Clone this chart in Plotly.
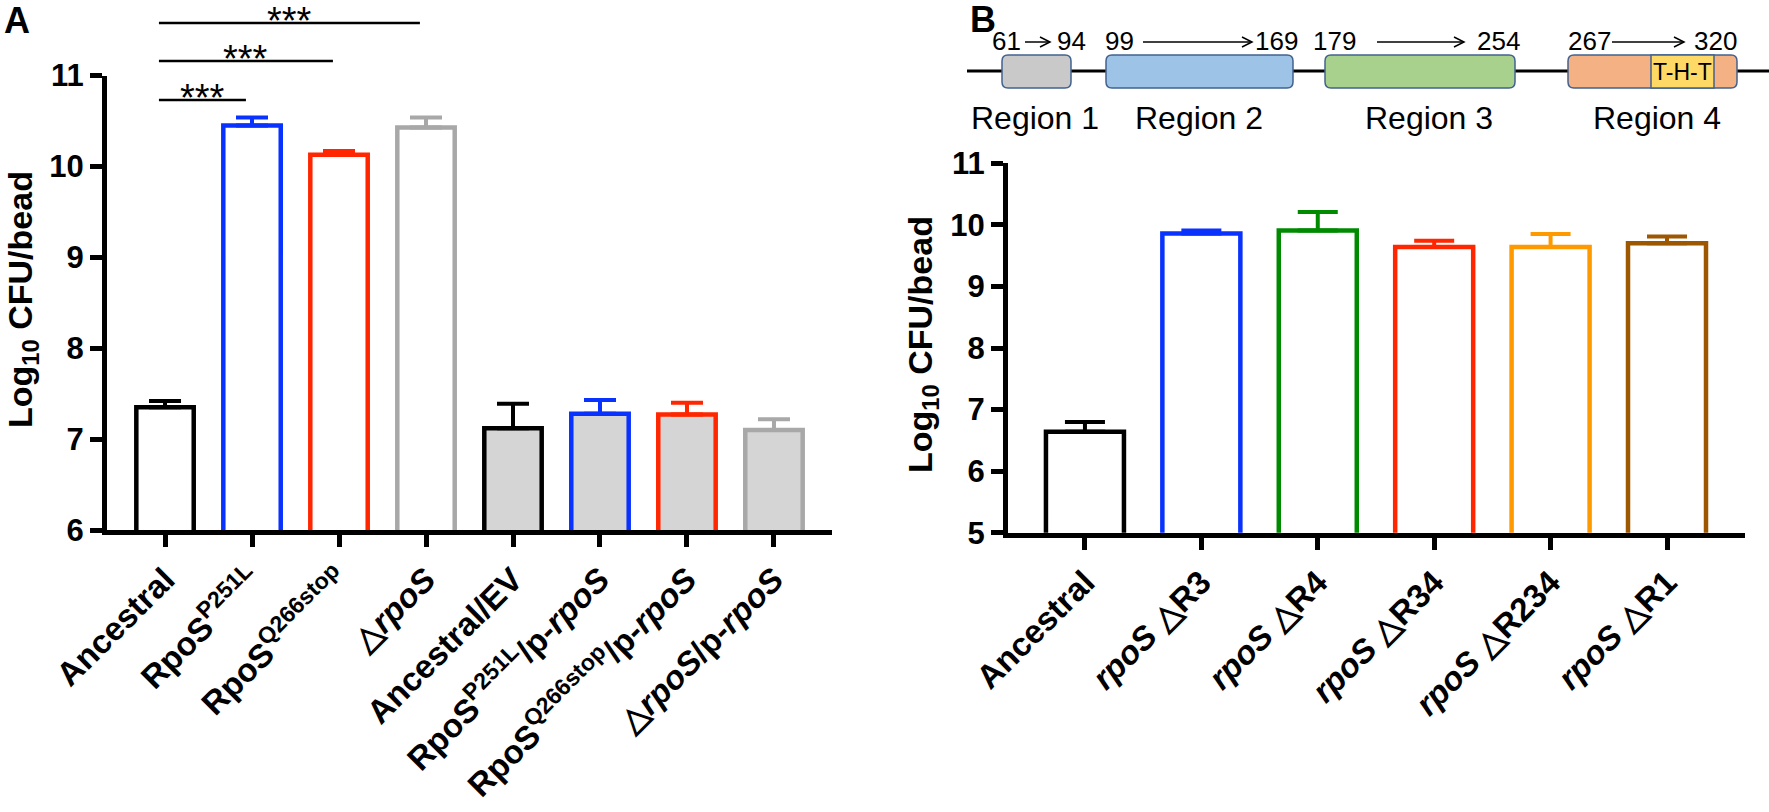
import plotly.graph_objects as go

W, H = 1769, 812
FONT = "Liberation Sans, Arial, sans-serif"

# ---------------- Panel A data ----------------
a_labels = ["Ancestral", "RpoS<sup>P251L</sup>", "RpoS<sup>Q266stop</sup>", "△<i>rpoS</i>",
            "Ancestral/EV", "RpoS<sup>P251L</sup>/p-<i>rpoS</i>",
            "RpoS<sup>Q266stop</sup>/p-<i>rpoS</i>", "△<i>rpoS</i>/p-<i>rpoS</i>"]
a_values = [7.35, 10.45, 10.13, 10.43, 7.12, 7.28, 7.27, 7.10]
a_errors = [0.07, 0.09, 0.04, 0.11, 0.27, 0.15, 0.13, 0.12]
a_line_colors = ["#000000", "#0a32ff", "#ff2600", "#a8a8a8",
                 "#000000", "#0a32ff", "#ff2600", "#a8a8a8"]
a_fill_colors = ["#ffffff", "#ffffff", "#ffffff", "#ffffff",
                 "#d5d5d5", "#d5d5d5", "#d5d5d5", "#d5d5d5"]
a_sig_pairs = [(0, 1), (0, 2), (0, 3)]
a_sig_text = ["***", "***", "***"]

# ---------------- Panel B data ----------------
b_labels = ["Ancestral", "<i>rpoS</i> △R3", "<i>rpoS</i> △R4", "<i>rpoS</i> △R34",
            "<i>rpoS</i> △R234", "<i>rpoS</i> △R1"]
b_values = [6.64, 9.86, 9.91, 9.64, 9.64, 9.70]
b_errors = [0.16, 0.05, 0.30, 0.10, 0.21, 0.11]
b_line_colors = ["#000000", "#0a32ff", "#008a00", "#ff2600", "#ff9900", "#9c5700"]

# ---------------- Domain diagram data ----------------
region_names = ["Region 1", "Region 2", "Region 3", "Region 4"]
region_start = [61, 99, 179, 267]
region_end = [94, 169, 254, 320]
region_fill = ["#c9c9c9", "#9dc3e6", "#a9d18e", "#f4b183"]
motif_text = "T-H-T"
motif_fill = "#ffd966"

# diagram layout (pixel positions)
box_px = [(1002, 1071), (1106, 1293), (1325, 1515), (1568, 1737)]
motif_px = (1651, 1714)
start_num_px = [1006, 1119, 1334, 1589]
arrow_px = [(1025, 1050), (1143, 1252), (1377, 1464), (1612, 1684)]
end_num_px = [1071, 1276, 1498, 1715]
label_px = [1035, 1199, 1429, 1657]


def px(x):
    return x / W


def py(y):
    return 1 - y / H


fig = go.Figure()

# Panel A bars
for i, (v, e, lc, fc) in enumerate(zip(a_values, a_errors, a_line_colors, a_fill_colors)):
    fig.add_trace(go.Bar(
        x=[i], y=[v], width=0.66, xaxis="x", yaxis="y",
        marker=dict(color=fc, line=dict(color=lc, width=4.5)),
        error_y=dict(type="data", array=[e], arrayminus=[0], symmetric=False,
                     color=lc, thickness=4, width=16),
        showlegend=False, hoverinfo="skip"))

# Panel B bars
for i, (v, e, lc) in enumerate(zip(b_values, b_errors, b_line_colors)):
    fig.add_trace(go.Bar(
        x=[i], y=[v], width=0.67, xaxis="x2", yaxis="y2",
        marker=dict(color="#ffffff", line=dict(color=lc, width=4.5)),
        error_y=dict(type="data", array=[e], arrayminus=[0], symmetric=False,
                     color=lc, thickness=4, width=20),
        showlegend=False, hoverinfo="skip"))

axis_common = dict(showgrid=False, zeroline=False, showline=True, linecolor="black",
                   linewidth=5, ticks="outside", ticklen=12, tickwidth=5, tickcolor="black",
                   automargin=False)

fig.update_layout(
    width=W, height=H, autosize=False,
    margin=dict(l=0, r=0, t=0, b=0, pad=0, autoexpand=False),
    paper_bgcolor="white", plot_bgcolor="white", barmode="overlay", showlegend=False,
    font=dict(family=FONT, color="black"),
    xaxis=dict(domain=[px(107), px(832)], range=[-0.667, 7.667], anchor="y",
               tickmode="array", tickvals=list(range(len(a_labels))), ticktext=a_labels,
               tickangle=-45, tickfont=dict(family=FONT, size=33, weight="bold", color="black"),
               **axis_common),
    yaxis=dict(domain=[py(530), py(75.6)], range=[6, 11], anchor="x",
               tickmode="linear", tick0=6, dtick=1,
               tickfont=dict(family=FONT, size=31, weight="bold", color="black"),
               **axis_common),
    xaxis2=dict(domain=[px(1008), px(1745)], range=[-0.661, 5.67], anchor="y2",
                tickmode="array", tickvals=list(range(len(b_labels))), ticktext=b_labels,
                tickangle=-45, tickfont=dict(family=FONT, size=33, weight="bold", color="black"),
                **axis_common),
    yaxis2=dict(domain=[py(532.7), py(163.3)], range=[5, 11], anchor="x2",
                tickmode="linear", tick0=5, dtick=1,
                tickfont=dict(family=FONT, size=31, weight="bold", color="black"),
                **axis_common),
)

shapes = []
annotations = []


def label(x, y, text, size, xref="paper", family=FONT, angle=0):
    return dict(xref=xref, yref="paper", x=x, y=y, text=text, showarrow=False,
                xanchor="center", yanchor="middle", textangle=angle,
                font=dict(family=family, size=size, color="black"))


# significance bars panel A
sig_y_px = [100, 61, 23]
for (i0, i1), t, yy in zip(a_sig_pairs, a_sig_text, sig_y_px):
    shapes.append(dict(type="line", xref="x", yref="paper", x0=i0 - 0.07, x1=i1 - 0.07,
                       y0=py(yy), y1=py(yy), line=dict(color="black", width=2.5)))
    annotations.append(label((i0 + i1) / 2 - 0.07, py(yy - 2), t, 38, xref="x"))

# axis titles
title_text = "<b>Log<sub>10</sub> CFU/bead</b>"
annotations.append(label(px(22), py(300), title_text, 34, angle=-90))
annotations.append(label(px(923), py(345), title_text, 34, angle=-90))

# panel letters
annotations.append(label(px(17), py(21), "<b>A</b>", 36))
annotations.append(label(px(983), py(19), "<b>B</b>", 36))

# diagram: backbone line
line_y = 71
shapes.append(dict(type="line", xref="paper", yref="paper", x0=px(967), x1=px(1769),
                   y0=py(line_y), y1=py(line_y), line=dict(color="black", width=3)))

box_top, box_bot = 55, 88
rx, ry = 6 / W, 6 / H
outline = "#41628f"


def rounded(x0p, x1p, y_top, y_bot):
    x0, x1 = px(x0p), px(x1p)
    yt, yb = py(y_top), py(y_bot)
    return (f"M {x0 + rx},{yt} L {x1 - rx},{yt} Q {x1},{yt} {x1},{yt - ry} "
            f"L {x1},{yb + ry} Q {x1},{yb} {x1 - rx},{yb} L {x0 + rx},{yb} "
            f"Q {x0},{yb} {x0},{yb + ry} L {x0},{yt - ry} Q {x0},{yt} {x0 + rx},{yt} Z")


for (x0p, x1p), fc in zip(box_px, region_fill):
    shapes.append(dict(type="path", xref="paper", yref="paper",
                       path=rounded(x0p, x1p, box_top, box_bot),
                       fillcolor=fc, line=dict(color=outline, width=1.5)))

shapes.append(dict(type="rect", xref="paper", yref="paper", x0=px(motif_px[0]), x1=px(motif_px[1]),
                   y0=py(box_bot), y1=py(box_top), fillcolor=motif_fill,
                   line=dict(color=outline, width=1.5)))
annotations.append(label(px(sum(motif_px) / 2), py(line_y + 1), motif_text, 23,
                         family="Liberation Sans Narrow, Liberation Sans, Arial"))

num_y = 41
for s, e, sx, (a0, a1), ex, name, lx in zip(region_start, region_end, start_num_px, arrow_px,
                                            end_num_px, region_names, label_px):
    annotations.append(label(px(sx), py(num_y), str(s), 26))
    annotations.append(label(px(ex), py(num_y), str(e), 26))
    ay = num_y + 1
    shapes.append(dict(type="line", xref="paper", yref="paper", x0=px(a0), x1=px(a1),
                       y0=py(ay), y1=py(ay), line=dict(color="black", width=1.5)))
    shapes.append(dict(type="path", xref="paper", yref="paper",
                       path=f"M {px(a1 - 10)},{py(ay - 5)} L {px(a1)},{py(ay)} L {px(a1 - 10)},{py(ay + 5)}",
                       line=dict(color="black", width=1.5)))
    annotations.append(label(px(lx), py(118), name, 32))

fig.update_layout(shapes=shapes, annotations=annotations)

fig.write_html("out.html", config={"displayModeBar": False},
               post_script="document.body.style.margin='0';document.body.style.overflow='hidden';")
